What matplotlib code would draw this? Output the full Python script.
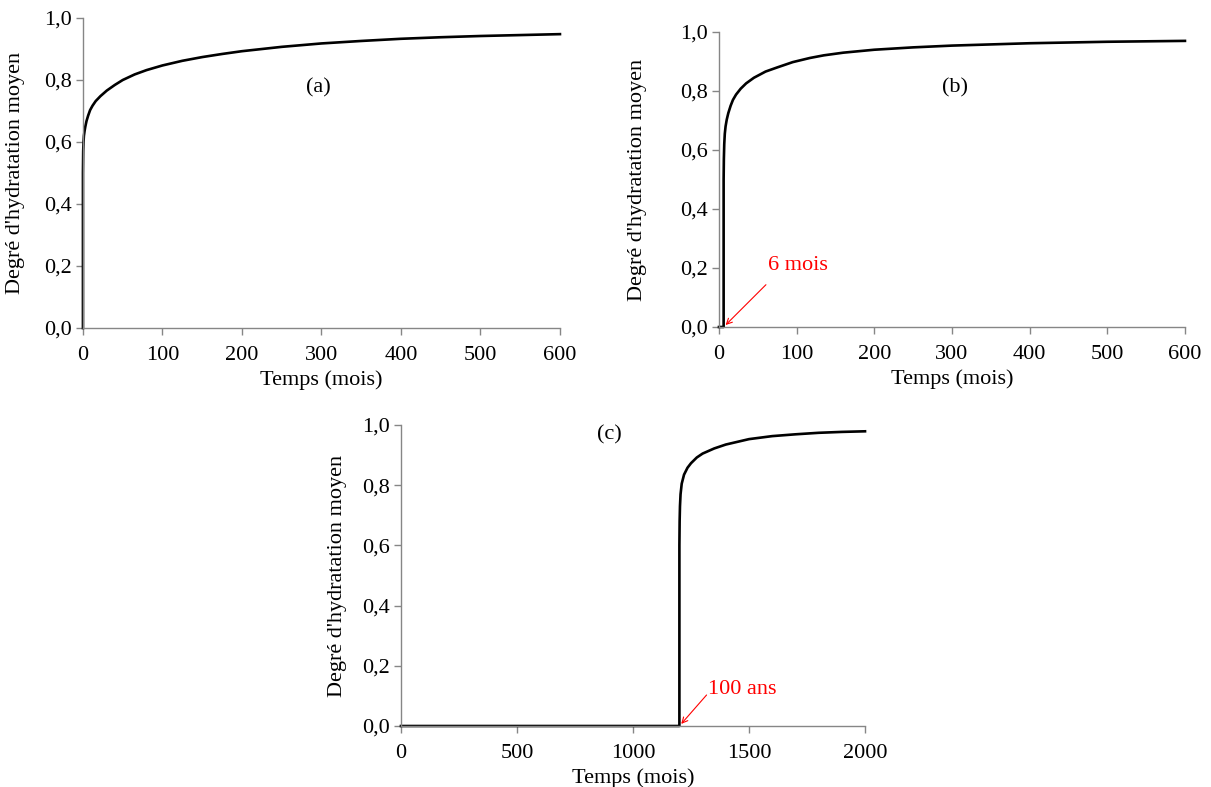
import matplotlib
matplotlib.use("Agg")
import matplotlib.pyplot as plt
from matplotlib.ticker import FuncFormatter

plt.rcParams['font.family'] = ['Liberation Serif', 'DejaVu Serif']

# (a) hydratation depuis t=0
t_a = [0, 0, 0.3, 0.7, 1.2, 2, 3, 4.5, 6.5, 9, 12, 16, 22, 30, 40, 50, 65, 80, 100, 125, 150, 175, 200, 250, 300, 350, 400, 450, 500, 550, 600]
alpha_a = [0, 0.50, 0.57, 0.60, 0.62, 0.635, 0.65, 0.668, 0.685, 0.703, 0.717, 0.732, 0.748, 0.766, 0.784, 0.80, 0.818, 0.832, 0.847, 0.862, 0.874, 0.884, 0.893, 0.907, 0.918, 0.926, 0.933, 0.938, 0.942, 0.945, 0.948]

# (b) hydratation apres 6 mois
t_b = [0, 6, 6, 6.3, 6.8, 7.5, 8.5, 10, 12, 15, 18, 22, 28, 35, 45, 60, 75, 95, 117, 135, 160, 200, 250, 300, 400, 500, 600]
alpha_b = [0, 0, 0.50, 0.57, 0.62, 0.655, 0.68, 0.703, 0.725, 0.75, 0.77, 0.788, 0.808, 0.826, 0.845, 0.866, 0.88, 0.898, 0.912, 0.921, 0.930, 0.940, 0.948, 0.954, 0.962, 0.967, 0.970]

# (c) hydratation apres 100 ans
t_c = [0, 1200, 1200, 1201, 1202.5, 1205, 1210, 1220, 1235, 1250, 1275, 1300, 1350, 1400, 1500, 1600, 1700, 1800, 1900, 2000]
alpha_c = [0, 0, 0.60, 0.68, 0.73, 0.77, 0.805, 0.835, 0.858, 0.873, 0.892, 0.905, 0.922, 0.935, 0.953, 0.963, 0.969, 0.974, 0.977, 0.979]

yticks = [0, 0.2, 0.4, 0.6, 0.8, 1.0]
comma = FuncFormatter(lambda v, p: ("%.1f" % v).replace(".", ","))

fig = plt.figure(figsize=(12.11, 7.87), dpi=100)
ax_a = fig.add_axes([0.0685, 0.5832, 0.3939, 0.3939])
ax_b = fig.add_axes([0.5937, 0.5845, 0.3848, 0.3748])
ax_c = fig.add_axes([0.3311, 0.0775, 0.3832, 0.3825])

def style(ax, xmax, xticks, ypad):
    ax.set_xlim(0, xmax)
    ax.set_ylim(0, 1.0)
    ax.set_xticks(xticks)
    ax.set_yticks(yticks)
    ax.yaxis.set_major_formatter(comma)
    for s in ['top', 'right']:
        ax.spines[s].set_visible(False)
    for s in ['left', 'bottom']:
        ax.spines[s].set_color('#868686')
        ax.spines[s].set_linewidth(1.0)
    ax.tick_params(colors='#868686', labelcolor='black', labelsize=16, length=5, width=1.0, pad=3)
    ax.tick_params(axis='x', pad=8)
    ax.set_xlabel("Temps (mois)", fontsize=16, labelpad=4)
    ax.set_ylabel("Degré d'hydratation moyen", fontsize=16, labelpad=ypad)

ax_a.plot(t_a, alpha_a, color='black', lw=1.9, clip_on=False)
style(ax_a, 600, [0, 100, 200, 300, 400, 500, 600], 14)
ax_a.text(296, 0.774, "(a)", fontsize=16, ha='center', va='center')

ax_b.plot(t_b, alpha_b, color='black', lw=1.9, clip_on=False)
style(ax_b, 600, [0, 100, 200, 300, 400, 500, 600], 24)
ax_b.text(304, 0.81, "(b)", fontsize=16, ha='center', va='center')
ax_b.annotate("", xy=(6, 0), xytext=(63, 0.15),
              arrowprops=dict(arrowstyle='->', color='red', lw=0.8))
ax_b.text(63, 0.21, "6 mois", color='red', fontsize=16, ha='left', va='center')

ax_c.plot(t_c, alpha_c, color='black', lw=1.9, clip_on=False)
style(ax_c, 2000, [0, 500, 1000, 1500, 2000], 11)
ax_c.text(897, 0.967, "(c)", fontsize=16, ha='center', va='center')
ax_c.annotate("", xy=(1200, 0), xytext=(1325, 0.11),
              arrowprops=dict(arrowstyle='->', color='red', lw=0.8))
ax_c.text(1325, 0.12, "100 ans", color='red', fontsize=16, ha='left', va='center')

fig.savefig("out.png", dpi=100)
